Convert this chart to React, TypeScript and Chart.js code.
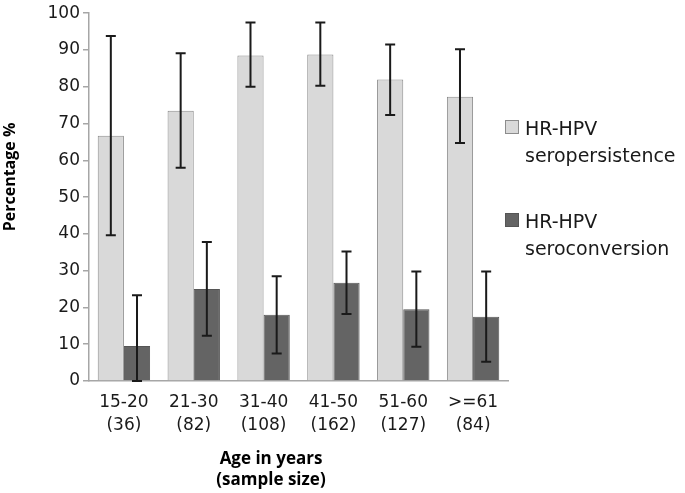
import React, { useEffect, useRef } from "react";
import { Chart, registerables } from "chart.js";

Chart.register(...registerables);

const categories: string[][] = [
  ["15-20", "(36)"],
  ["21-30", "(82)"],
  ["31-40", "(108)"],
  ["41-50", "(162)"],
  ["51-60", "(127)"],
  [">=61", "(84)"],
];
const persistence = [66.7, 73.5, 88.5, 88.8, 82.0, 77.3];
const persistenceLow = [39.6, 58.0, 80.0, 80.3, 72.3, 64.7];
const persistenceHigh = [93.8, 89.1, 97.5, 97.5, 91.5, 90.2];
const conversion = [9.5, 25.0, 18.0, 26.7, 19.5, 17.5];
const conversionLow = [0, 12.3, 7.5, 18.2, 9.3, 5.2];
const conversionHigh = [23.3, 37.8, 28.5, 35.2, 29.8, 29.8];
const seriesNames: string[][] = [
  ["HR-HPV", "seropersistence"],
  ["HR-HPV", "seroconversion"],
];
const yTicks = [0, 10, 20, 30, 40, 50, 60, 70, 80, 90, 100];

const LIGHT = "#d9d9d9";
const LIGHT_BORDER = "#8c8c8c";
const DARK = "#646464";
const DARK_BORDER = "#555555";
const FONT = "'DejaVu Sans', 'Open Sans', sans-serif";
const TITLE_FONT = "'Open Sans', 'Liberation Sans', sans-serif";

const errorBarPlugin = {
  id: "errorBars",
  afterDatasetsDraw(chart: any) {
    const ctx = chart.ctx;
    const y = chart.scales.y;
    const lows = [persistenceLow, conversionLow];
    const highs = [persistenceHigh, conversionHigh];
    ctx.save();
    ctx.strokeStyle = "#1a1a1a";
    ctx.lineWidth = 2;
    chart.data.datasets.forEach((_: any, di: number) => {
      const meta = chart.getDatasetMeta(di);
      meta.data.forEach((bar: any, i: number) => {
        const x = bar.x;
        const yl = y.getPixelForValue(lows[di][i]);
        const yh = y.getPixelForValue(highs[di][i]);
        ctx.beginPath();
        ctx.moveTo(x, yl);
        ctx.lineTo(x, yh);
        ctx.moveTo(x - 5, yl);
        ctx.lineTo(x + 5, yl);
        ctx.moveTo(x - 5, yh);
        ctx.lineTo(x + 5, yh);
        ctx.stroke();
      });
    });
    ctx.restore();
  },
};

const decorPlugin = {
  id: "decor",
  afterDraw(chart: any) {
    const ctx = chart.ctx;
    ctx.save();
    // Y title
    ctx.fillStyle = "#000";
    ctx.font = `bold 16px ${TITLE_FONT}`;
    ctx.textAlign = "center";
    ctx.textBaseline = "middle";
    ctx.translate(10, 177);
    ctx.rotate(-Math.PI / 2);
    ctx.fillText("Percentage %", 0, 0);
    ctx.restore();

    ctx.save();
    ctx.fillStyle = "#000";
    ctx.font = `bold 17px ${TITLE_FONT}`;
    ctx.textAlign = "center";
    ctx.textBaseline = "alphabetic";
    ctx.fillText("Age in years", 271, 464);
    ctx.fillText("(sample size)", 271, 485);

    // legend
    const fills = [LIGHT, DARK];
    const borders = [LIGHT_BORDER, DARK_BORDER];
    const tops = [120, 213];
    ctx.font = `19px ${FONT}`;
    ctx.textAlign = "left";
    seriesNames.forEach((lines, i) => {
      ctx.fillStyle = fills[i];
      ctx.strokeStyle = borders[i];
      ctx.lineWidth = 1;
      ctx.fillRect(505, tops[i], 14, 14);
      ctx.strokeRect(505.5, tops[i] + 0.5, 13, 13);
      ctx.fillStyle = "#1a1a1a";
      lines.forEach((t, j) => {
        ctx.fillText(t, 525, tops[i] + 15 + j * 27);
      });
    });
    ctx.restore();
  },
};

export default function App() {
  const ref = useRef<HTMLCanvasElement | null>(null);
  useEffect(() => {
    if (!ref.current) return;
    const chart = new Chart(ref.current, {
      type: "bar",
      data: {
        labels: categories,
        datasets: [
          {
            label: seriesNames[0].join(" "),
            data: persistence,
            backgroundColor: LIGHT,
            borderColor: LIGHT_BORDER,
            borderWidth: 1,
            categoryPercentage: 0.75,
            barPercentage: 1,
          },
          {
            label: seriesNames[1].join(" "),
            data: conversion,
            backgroundColor: DARK,
            borderColor: DARK_BORDER,
            borderWidth: 1,
            categoryPercentage: 0.75,
            barPercentage: 1,
          },
        ],
      },
      options: {
        responsive: true,
        maintainAspectRatio: false,
        animation: false,
        layout: { padding: { left: 0, right: 177, top: 8, bottom: 0 } },
        plugins: {
          legend: { display: false },
          tooltip: { enabled: false },
          title: { display: false },
        },
        scales: {
          x: {
            grid: { display: false, drawTicks: false },
            border: { color: "#a6a6a6", width: 1.5 },
            ticks: {
              color: "#1a1a1a",
              font: { family: FONT, size: 17, lineHeight: 1.35 },
              padding: 10,
              maxRotation: 0,
              autoSkip: false,
            },
            afterFit: (s: any) => {
              s.height = 112;
            },
          },
          y: {
            min: 0,
            max: 100,
            afterBuildTicks: (s: any) => {
              s.ticks = yTicks.map((v) => ({ value: v }));
            },
            grid: {
              display: true,
              drawOnChartArea: false,
              drawTicks: true,
              tickLength: 6,
              color: "#a6a6a6",
              lineWidth: 1.5,
            },
            border: { color: "#a6a6a6", width: 1.5 },
            ticks: {
              color: "#1a1a1a",
              font: { family: FONT, size: 17 },
              padding: 3,
            },
            afterFit: (s: any) => {
              s.width = 89;
            },
          },
        },
      },
      plugins: [errorBarPlugin, decorPlugin],
    });
    return () => chart.destroy();
  }, []);
  return (
    <div style={{ position: "absolute", left: 0, top: 0, width: 685, height: 493, background: "#fff" }}>
      <canvas ref={ref} />
    </div>
  );
}
